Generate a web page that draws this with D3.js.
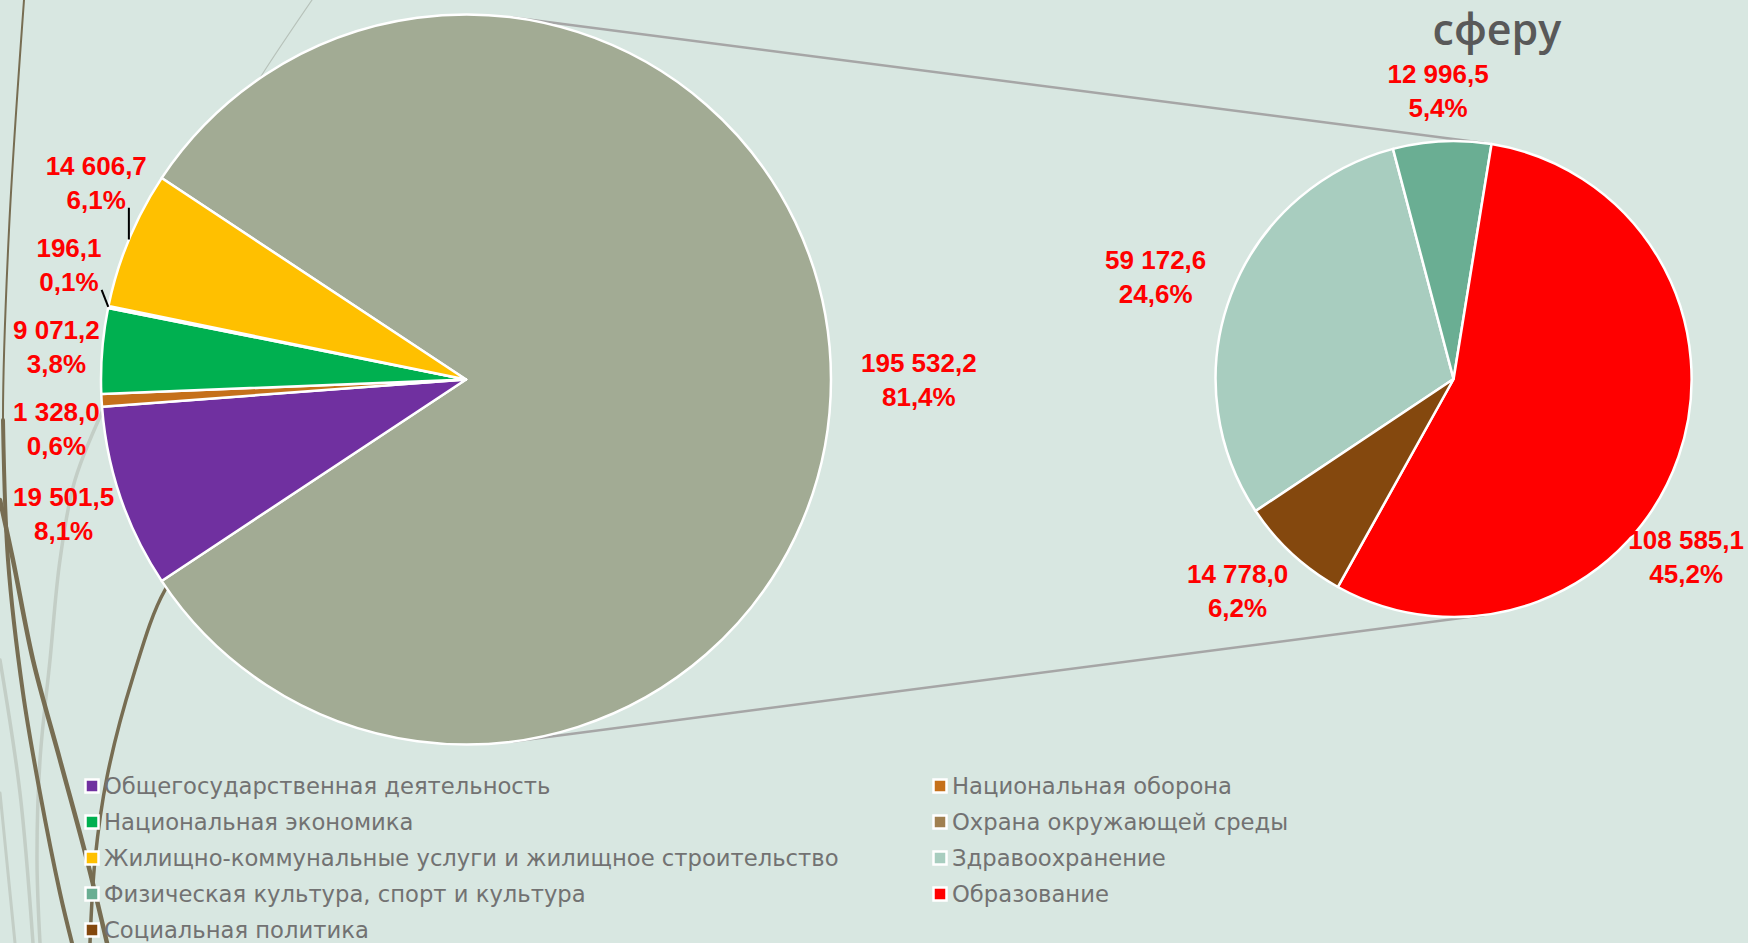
<!DOCTYPE html>
<html>
<head>
<meta charset="utf-8">
<script src="https://cdn.jsdelivr.net/npm/d3@7"></script>
<style>
  html, body { margin: 0; padding: 0; background: #d8e7e1; }
  svg { display: block; }
</style>
</head>
<body>
<svg id="chart" width="1748" height="943"></svg>
<script>
// budget spending by section, main pie + breakdown of the social sphere
const mainCategories = [
  'Общегосударственная деятельность',
  'Национальная оборона',
  'Национальная экономика',
  'Охрана окружающей среды',
  'Жилищно-коммунальные услуги и жилищное строительство'
]
const mainValues = [19501.5, 1328.0, 9071.2, 196.1, 14606.7]
const mainColors = ['#7030a0', '#c5701a', '#00b050', '#a08050', '#ffc000']

const socialCategories = [
  'Здравоохранение',
  'Физическая культура, спорт и культура',
  'Образование',
  'Социальная политика'
]
const socialValues = [59172.6, 12996.5, 108585.1, 14778.0]
const socialColors = ['#a8cdbf', '#6aae93', '#ff0000', '#84480e']

const otherColor = '#a2ab94'
const titleText = 'сферу'

const width = 1748, height = 943
const svg = d3.select('#chart')

const ru = d3.formatLocale({ decimal: ',', thousands: '\u00a0', grouping: [3], currency: ['', ''] })
const fmtValue = ru.format(',.1f')
const fmtPct = ru.format('.1%')

//
// background wisps (slide decoration)
//
const curve = d3.line().curve(d3.curveCatmullRom.alpha(0.5))
const wisps = [
  { pts: [[312, 0], [265, 70], [215, 150]], color: '#b7c2ba', w: 1.2 },
  { pts: [[110, 395], [75, 480], [60, 560], [50, 660], [40, 760], [37, 860], [40, 943]], color: '#c3cec6', w: 3.5 },
  { pts: [[0, 660], [20, 793], [33, 943]], color: '#c3cec6', w: 3.5 },
  { pts: [[0, 793], [15, 943]], color: '#c3cec6', w: 3 },
  { pts: [[24, 0], [9, 230], [3, 420], [8, 560]], color: '#776d52', w: 2 },
  { pts: [[3, 420], [8, 560], [23, 693], [40, 793], [60, 893], [72, 943]], color: '#776d52', w: 4 },
  { pts: [[0, 500], [13, 560], [33, 660], [60, 760], [87, 860], [107, 943]], color: '#776d52', w: 4.5 },
  { pts: [[205, 540], [165, 590], [133, 677], [107, 777], [95, 860], [90, 943]], color: '#776d52', w: 3.5 }
]
svg.append('g')
    .attr('fill', 'none')
    .attr('stroke-linecap', 'round')
  .selectAll('path')
  .data(wisps)
  .enter().append('path')
    .attr('d', d => curve(d.pts))
    .attr('stroke', d => d.color)
    .attr('stroke-width', d => d.w)

//
// pies
//
const socialTotal = d3.sum(socialValues)
const total = d3.sum(mainValues) + socialTotal

const mainData = [{ name: 'other', value: socialTotal, color: otherColor }]
  .concat(mainCategories.map((name, i) => ({ name, value: mainValues[i], color: mainColors[i] })))
const socialData = socialCategories.map((name, i) => ({ name, value: socialValues[i], color: socialColors[i] }))

const big = { cx: 466, cy: 379.5, r: 365 }
const small = { cx: 1453.6, cy: 379, r: 238 }

// the "other" slice faces the second pie
const mainStart = Math.PI / 2 - (socialTotal / total) * Math.PI
const socialStart = -123.7 * Math.PI / 180

const mainArcs = d3.pie().sort(null).value(d => d.value)
  .startAngle(mainStart).endAngle(mainStart + 2 * Math.PI)(mainData)
const socialArcs = d3.pie().sort(null).value(d => d.value)
  .startAngle(socialStart).endAngle(socialStart + 2 * Math.PI)(socialData)

// connector lines = outer tangents of both circles
const ddx = small.cx - big.cx, ddy = small.cy - big.cy
const dist = Math.hypot(ddx, ddy)
const ex = ddx / dist, ey = ddy / dist
const k = (big.r - small.r) / dist, q = Math.sqrt(1 - k * k)
const normals = [[ex * k + ey * q, ey * k - ex * q], [ex * k - ey * q, ey * k + ex * q]]
svg.append('g')
  .selectAll('line')
  .data(normals)
  .enter().append('line')
    .attr('x1', n => big.cx + big.r * n[0])
    .attr('y1', n => big.cy + big.r * n[1])
    .attr('x2', n => small.cx + small.r * n[0])
    .attr('y2', n => small.cy + small.r * n[1])
    .attr('stroke', '#a6a6a6')
    .attr('stroke-width', 2.5)

function drawPie(arcs, pie) {
  const arc = d3.arc().innerRadius(0).outerRadius(pie.r)
  svg.append('g')
      .attr('transform', `translate(${pie.cx},${pie.cy})`)
    .selectAll('path')
    .data(arcs)
    .enter().append('path')
      .attr('d', arc)
      .attr('fill', d => d.data.color)
      .attr('stroke', '#fff')
      .attr('stroke-width', 2.5)
      .attr('stroke-linejoin', 'round')
}
drawPie(mainArcs, big)
drawPie(socialArcs, small)

//
// data labels
//
const labelFont = 26, lineGap = 34, labelGap = 30, padL = 13, padR = 4, tol = 10
const boxH = lineGap + labelFont * 0.9
const projH = 40

const labelLayer = svg.append('g')
  .attr('font-family', '"Liberation Sans", Arial, sans-serif')
  .attr('font-weight', 700)
  .attr('font-size', labelFont)
  .attr('fill', '#ff0000')
  .attr('text-anchor', 'middle')

function makeLabel(d, pie) {
  const g = labelLayer.append('g')
  const t1 = g.append('text').attr('dy', '0.35em').text(fmtValue(d.data.value))
  const t2 = g.append('text').attr('dy', '0.35em').text(fmtPct(d.data.value / total))
  const w1 = t1.node().getComputedTextLength()
  const w2 = t2.node().getComputedTextLength()
  return { d, pie, g, t1, t2, w1, w2, w: Math.max(w1, w2), mid: (d.startAngle + d.endAngle) / 2 }
}

function labelAt(a, L) {
  const ux = Math.sin(a), uy = -Math.cos(a)
  let x = L.pie.cx + (L.pie.r + labelGap) * ux + ux * L.w / 2
  const y = L.pie.cy + (L.pie.r + labelGap) * uy + uy * projH / 2
  x = Math.max(padL + L.w / 2, Math.min(width - padR - L.w / 2, x))
  return { x, y }
}

function clearance(p, L) {
  const nx = Math.max(p.x - L.w / 2, Math.min(L.pie.cx, p.x + L.w / 2))
  const ny = Math.max(p.y - boxH / 2, Math.min(L.pie.cy, p.y + boxH / 2))
  return Math.hypot(nx - L.pie.cx, ny - L.pie.cy)
}

function place(L) {
  let a = L.mid
  let p = labelAt(a, L)
  // slide along the pie, away from the horizontal, until the box clears the slices
  const down = Math.cos(a) < 0
  const n = ((a % (2 * Math.PI)) + 2 * Math.PI) % (2 * Math.PI)
  const step = (down ? (n < Math.PI ? 1 : -1) : (n < Math.PI ? -1 : 1)) * Math.PI / 180
  for (let i = 0; i < 80 && clearance(p, L) < L.pie.r - tol; i++) {
    a += step
    p = labelAt(a, L)
  }
  L.x = p.x
  L.y = p.y
  L.y0 = p.y
}

const mainLabels = mainArcs.map(d => makeLabel(d, big))
const socialLabels = socialArcs.map(d => makeLabel(d, small))
mainLabels.concat(socialLabels).forEach(place)

// spread the crowded labels on the left of the main pie:
// labels above the centre may only move up, labels below only down
const leftGroup = mainLabels.filter(L => Math.sin(L.mid) < 0).sort((a, b) => a.y - b.y)
const minSpacing = 82
const anchor = Math.max(0, d3.sum(leftGroup, L => L.y < L.pie.cy ? 1 : 0) - 1)
for (let i = anchor - 1; i >= 0; i--) {
  leftGroup[i].y = Math.min(leftGroup[i].y, leftGroup[i + 1].y - minSpacing)
}
for (let i = anchor + 1; i < leftGroup.length; i++) {
  leftGroup[i].y = Math.max(leftGroup[i].y, leftGroup[i - 1].y + minSpacing)
}
// then push each line of text up against the pie edge
leftGroup.forEach(L => {
  const ring = L.pie.r + 12
  const lines = [[L.y - lineGap / 2, L.w1], [L.y + lineGap / 2, L.w2]]
  let cx = Infinity
  lines.forEach(([ly, lw]) => {
    const top = ly - 13, bottom = ly + 13
    const dy = Math.max(0, top - L.pie.cy, L.pie.cy - bottom)
    const reach = Math.sqrt(Math.max(0, ring * ring - dy * dy))
    cx = Math.min(cx, L.pie.cx - reach - lw / 2)
  })
  L.x = Math.max(padL + L.w / 2, cx)
})

mainLabels.concat(socialLabels).forEach(L => {
  L.t1.attr('x', L.x).attr('y', L.y - lineGap / 2)
  L.t2.attr('x', L.x).attr('y', L.y + lineGap / 2)
})

// leader lines for labels that ended up away from their slice
function boxDistance(L, px, py) {
  const bx = Math.max(L.x - L.w / 2, Math.min(px, L.x + L.w / 2))
  const by = Math.max(L.y - boxH / 2, Math.min(py, L.y + boxH / 2))
  return Math.hypot(px - bx, py - by)
}
leftGroup.filter(L => Math.abs(L.y - L.y0) > 12).forEach(L => {
  const exX = L.pie.cx + L.pie.r * Math.sin(L.mid)
  const exY = L.pie.cy - L.pie.r * Math.cos(L.mid)
  if (boxDistance(L, exX, exY) < 12) return
  const tx = L.x + L.w2 / 2 + 3, ty = L.y + lineGap / 2 + 8
  const pts = exX - tx > 12 ? [[tx, ty], [tx + 14, ty], [exX, exY]] : [[tx, ty], [exX, exY]]
  svg.append('path')
    .attr('d', d3.line()(pts))
    .attr('fill', 'none')
    .attr('stroke', '#000')
    .attr('stroke-width', 2)
})

//
// title fragment
//
svg.append('text')
  .attr('x', 1497)
  .attr('y', 45)
  .attr('text-anchor', 'middle')
  .attr('font-family', '"Open Sans", "Noto Sans", sans-serif')
  .attr('font-weight', 600)
  .attr('font-size', 43)
  .attr('fill', '#595959')
  .text(titleText)

//
// legend, two columns, row by row
//
const legendItems = mainCategories.map((name, i) => ({ name, color: mainColors[i] }))
  .concat(socialCategories.map((name, i) => ({ name, color: socialColors[i] })))
const legendCols = [92, 940]
const legendTop = 786, legendStep = 36

const legend = svg.append('g')
  .attr('font-family', '"DejaVu Sans", sans-serif')
  .attr('font-size', 22.7)
  .attr('fill', '#727272')
  .selectAll('g')
  .data(legendItems)
  .enter().append('g')
    .attr('transform', (d, i) => `translate(${legendCols[i % 2]},${legendTop + Math.floor(i / 2) * legendStep})`)

legend.append('rect')
    .attr('x', -6.5).attr('y', -6.5)
    .attr('width', 13).attr('height', 13)
    .attr('fill', d => d.color)
    .attr('stroke', '#fff')
    .attr('stroke-width', 2.5)

legend.append('text')
    .attr('x', 12)
    .attr('dy', '0.35em')
    .text(d => d.name)
</script>
</body>
</html>
